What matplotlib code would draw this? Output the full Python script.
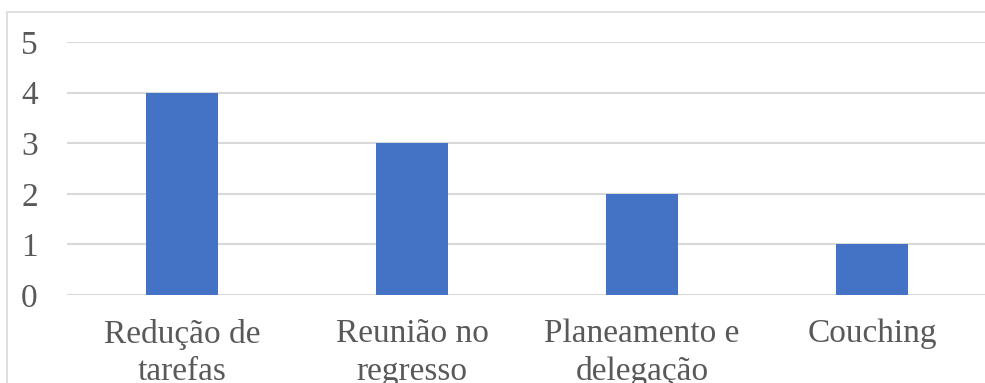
import matplotlib.pyplot as plt
from matplotlib.patches import Rectangle
import numpy as np

categories = ["Redução de\ntarefas", "Reunião no\nregresso", "Planeamento e\ndelegação", "Couching"]
values = [4, 3, 2, 1]
yticks = [0, 1, 2, 3, 4, 5]

W, H = 985, 383
fig = plt.figure(figsize=(W / 100, H / 100), dpi=100)
plt.rcParams['font.family'] = ['Liberation Serif', 'DejaVu Serif']

# axes placed in pixel terms of the reference
ax = fig.add_axes([67 / W, 1 - 295 / H, 920 / W, (295 - 42) / H])

x = np.arange(len(categories))
ax.bar(x, values, width=0.31, color='#4472C4', zorder=3)

ax.set_xlim(-0.5, len(categories) - 0.5)
ax.set_ylim(0, 5)
ax.set_yticks(yticks)
ax.set_xticks(x)
ax.set_xticklabels(categories, linespacing=1.3)

ax.grid(axis='y', color='#d9d9d9', linewidth=1.5, zorder=0)
for s in ax.spines.values():
    s.set_visible(False)
ax.tick_params(axis='both', length=0, labelsize=24, colors='#595959')
ax.tick_params(axis='y', pad=21)
ax.tick_params(axis='x', pad=17)

# outer chart border (cropped on right and bottom)
fig.patches.append(Rectangle((7 / W, -0.5), 2.0, 1 - 12 / H + 0.5,
                             transform=fig.transFigure, fill=False,
                             edgecolor='#d9d9d9', linewidth=1.2))

fig.savefig("out.png", dpi=100)
